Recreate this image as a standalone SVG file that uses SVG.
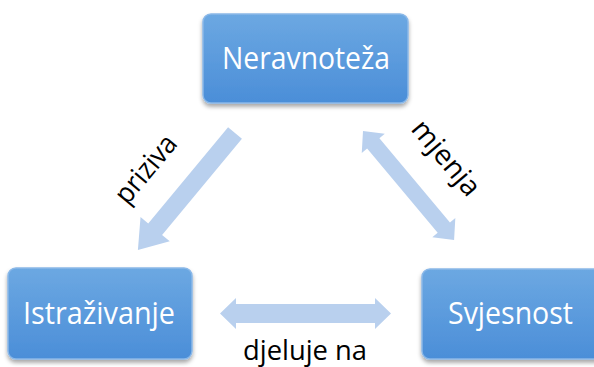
<svg xmlns="http://www.w3.org/2000/svg" width="594" height="367" viewBox="0 0 594 367">
<style>
.box{fill:url(#g);stroke:#8ab8e8;stroke-width:1.5;filter:url(#sh)}
.bt{font-family:"Open Sans","Noto Sans",sans-serif;font-size:31px;fill:#fff;text-anchor:middle}
.lt{font-family:"Open Sans","Noto Sans",sans-serif;font-size:28px;fill:#000;text-anchor:middle}
.arr{fill:#b9d0ee}
</style>
<defs>
<linearGradient id="g" x1="0" y1="0" x2="0" y2="1">
<stop offset="0" stop-color="#6ca8e2"/>
<stop offset="1" stop-color="#4b8ed8"/>
</linearGradient>
<filter id="sh" x="-10%" y="-10%" width="120%" height="130%">
<feDropShadow dx="0" dy="3" stdDeviation="2" flood-color="#000" flood-opacity="0.35"/>
</filter>
</defs>
<g id="connectors">
<polygon class="arr" transform="translate(235,133) rotate(129.7)" points="0,-9 125,-9 125,-19 152,0 125,19 125,9 0,9"/>
<polygon class="arr" transform="translate(363,131) rotate(50.1)" points="0,0 16,-15 16,-8 126,-8 126,-15 142,0 126,15 126,8 16,8 16,15"/>
<polygon class="arr" transform="translate(220,313.5)" points="0,0 16,-15.5 16,-9.5 155,-9.5 155,-15.5 171,0 155,15.5 155,9.5 16,9.5 16,15.5"/>
<text class="lt" transform="translate(153,175) rotate(-50)" textLength="80" lengthAdjust="spacingAndGlyphs">priziva</text>
<text class="lt" transform="translate(439,164) rotate(50)" textLength="90" lengthAdjust="spacingAndGlyphs">mjenja</text>
<text class="lt" x="305" y="360" textLength="124" lengthAdjust="spacingAndGlyphs">djeluje na</text>
</g>
<g id="neravnoteza">
<rect class="box" x="203" y="14" width="205" height="89" rx="8"/>
<text class="bt" x="306" y="69" textLength="168" lengthAdjust="spacingAndGlyphs">Neravnoteža</text>
</g>
<g id="istrazivanje">
<rect class="box" x="8" y="268" width="184" height="91" rx="8"/>
<text class="bt" x="99" y="324" textLength="152" lengthAdjust="spacingAndGlyphs">Istraživanje</text>
</g>
<g id="svjesnost">
<rect class="box" x="422" y="269" width="190" height="90" rx="8"/>
<text class="bt" x="510.5" y="324" textLength="125" lengthAdjust="spacingAndGlyphs">Svjesnost</text>
</g>
</svg>
